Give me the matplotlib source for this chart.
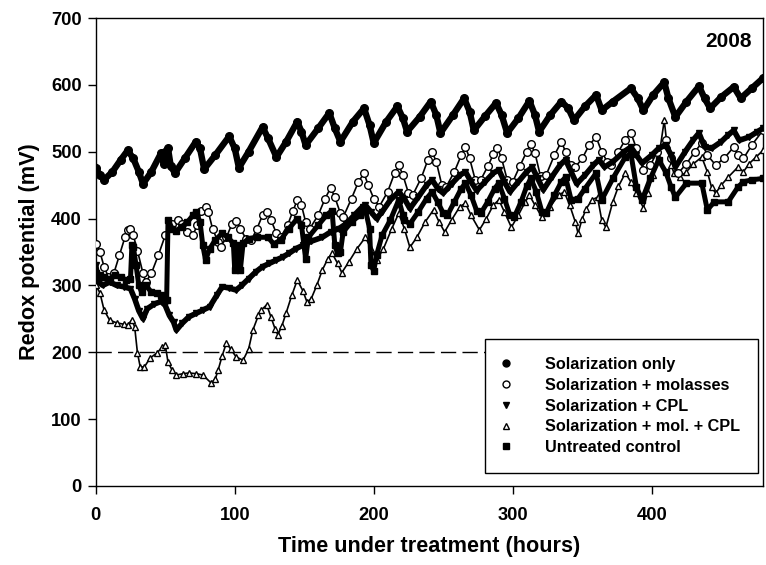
import matplotlib
matplotlib.use("Agg")
import matplotlib.pyplot as plt
from matplotlib.lines import Line2D
from matplotlib import font_manager

plt.rcParams['font.family'] = ['Liberation Sans', 'DejaVu Sans']
plt.rcParams['font.weight'] = 'bold'

# ---------------- data (hours, mV) ----------------
sol_h = [0, 3, 6, 12, 18, 23, 27, 31, 34, 40, 47, 49, 50, 52, 54, 57, 64, 72, 75, 78, 86, 96, 100, 103,
         110, 120, 124, 130, 137, 145, 148, 151, 160, 168, 172, 176, 185, 193, 197, 200, 209, 217, 221,
         224, 233, 241, 245, 248, 257, 265, 269, 272, 280, 288, 292, 296, 304, 312, 316, 319, 327, 335,
         340, 344, 352, 360, 364, 372, 385, 390, 394, 401, 409, 412, 417, 425, 434, 438, 442, 450, 459,
         464, 472, 480]
sol_v = [476, 465, 458, 470, 488, 502, 490, 470, 452, 470, 498, 482, 500, 505, 478, 468, 490, 515, 505, 474,
         495, 523, 505, 476, 500, 537, 520, 492, 515, 545, 530, 510, 535, 558, 535, 515, 545, 565, 540,
         513, 545, 568, 550, 530, 552, 575, 555, 528, 555, 580, 560, 532, 553, 573, 555, 528, 550, 576,
         555, 530, 555, 575, 565, 547, 568, 585, 562, 575, 595, 580, 562, 585, 604, 580, 552, 575, 598,
         580, 565, 582, 597, 580, 595, 610]

mol_h = [0, 3, 6, 9, 13, 17, 21, 23, 25, 27, 30, 34, 36, 40, 45, 50, 55, 59, 62, 66, 70, 73, 76, 79, 81,
         84, 88, 90, 94, 98, 101, 104, 108, 112, 116, 120, 123, 126, 130, 133, 138, 142, 145, 148, 151,
         154, 160, 165, 169, 172, 176, 178, 184, 189, 193, 196, 200, 204, 210, 215, 218, 221, 225, 228,
         234, 239, 242, 245, 249, 252, 258, 263, 266, 269, 273, 277, 282, 286, 289, 292, 296, 300, 305,
         310, 313, 316, 320, 324, 330, 335, 338, 342, 345, 350, 355, 360, 364, 368, 371, 376, 381, 385,
         389, 394, 399, 404, 410, 414, 419, 425, 431, 436, 440, 446, 452, 459, 462, 466, 472, 480]
mol_v = [362, 350, 328, 313, 318, 345, 372, 383, 385, 375, 352, 318, 305, 318, 345, 375, 392, 398, 392,
         380, 376, 390, 412, 418, 410, 385, 365, 358, 372, 392, 396, 385, 370, 368, 385, 405, 410, 398,
         378, 372, 390, 412, 428, 420, 395, 385, 405, 430, 446, 432, 408, 402, 430, 455, 468, 450, 430,
         418, 440, 468, 480, 465, 438, 435, 460, 488, 500, 485, 450, 447, 470, 495, 507, 490, 458, 458,
         478, 496, 505, 490, 458, 455, 478, 500, 512, 498, 463, 465, 495, 515, 500, 480, 477, 490, 510,
         522, 500, 485, 480, 500, 518, 528, 505, 472, 480, 500, 517, 490, 468, 482, 500, 513, 495, 480,
         490, 507, 495, 490, 510, 532]

cpl_h = [0, 2, 5, 10, 15, 20, 25, 28, 31, 34, 37, 42, 47, 50, 53, 56, 58, 62, 67, 72, 77, 82, 87, 91,
         96, 101, 105, 110, 115, 120, 125, 130, 135, 139, 144, 149, 155, 163, 169, 175, 180, 186, 192,
         194, 198, 202, 206, 212, 218, 222, 226, 232, 238, 242, 246, 250, 256, 262, 266, 270, 274, 280,
         286, 290, 294, 298, 304, 310, 314, 318, 322, 328, 334, 338, 342, 346, 352, 358, 362, 366, 372,
         380, 385, 389, 393, 400, 405, 410, 414, 417, 424, 430, 434, 438, 443, 450, 455, 459, 463, 470,
         476, 480]
cpl_v = [330, 305, 300, 305, 300, 298, 295, 280, 262, 250, 265, 272, 276, 270, 255, 245, 233, 243, 253,
         258, 263, 268, 285, 298, 296, 293, 300, 310, 320, 328, 333, 338, 343, 348, 355, 360, 366, 372,
         380, 385, 392, 405, 418, 420, 410, 400, 410, 428, 440, 430, 415, 432, 450, 458, 445, 438, 452,
         465, 470, 455, 442, 455, 468, 473, 455, 440, 455, 470, 477, 460, 443, 462, 480, 488, 470, 452,
         465, 480, 488, 477, 485, 500, 507, 495, 483, 495, 505, 510, 495, 477, 500, 518, 528, 507, 505,
         515, 525, 532, 517, 522, 530, 535]

molcpl_h = [0, 3, 6, 10, 15, 20, 23, 26, 28, 30, 32, 35, 39, 44, 48, 50, 52, 55, 58, 63, 67, 72, 77, 83,
            86, 88, 91, 94, 97, 101, 106, 110, 113, 117, 119, 123, 126, 129, 131, 134, 137, 141, 145,
            149, 152, 155, 159, 163, 167, 170, 174, 177, 182, 188, 194, 198, 202, 207, 213, 218, 222,
            226, 231, 237, 243, 247, 251, 256, 262, 266, 270, 276, 281, 286, 290, 294, 299, 304, 309,
            312, 316, 321, 327, 333, 337, 341, 345, 347, 350, 353, 357, 361, 364, 367, 372, 376, 381,
            385, 389, 394, 397, 401, 405, 409, 411, 414, 416, 420, 425, 430, 436, 440, 443, 446, 450,
            455, 462, 466, 470, 475, 480]
molcpl_v = [300, 289, 263, 248, 244, 242, 241, 248, 238, 199, 178, 178, 191, 199, 208, 211, 185, 173, 166,
            168, 169, 168, 166, 154, 160, 173, 195, 214, 205, 193, 188, 205, 233, 255, 263, 271, 253, 235,
            226, 240, 259, 285, 308, 292, 275, 280, 300, 323, 340, 348, 333, 319, 335, 355, 372, 355, 338,
            355, 385, 408, 385, 357, 372, 395, 413, 395, 380, 398, 418, 423, 405, 383, 400, 420, 428, 410,
            387, 405, 425, 435, 420, 402, 418, 435, 440, 420, 395, 378, 400, 415, 428, 432, 398, 387, 425,
            448, 468, 455, 438, 416, 438, 465, 490, 547, 510, 480, 468, 462, 470, 482, 492, 470, 447, 438,
            450, 462, 477, 470, 482, 492, 502]

ctrl_h = [0, 3, 6, 10, 14, 18, 22, 25, 26, 27, 29, 31, 33, 36, 40, 44, 47, 49, 51, 52, 55, 58, 62, 66,
          70, 72, 75, 77, 79, 82, 86, 91, 95, 99, 100, 102, 104, 106, 110, 116, 124, 128, 133, 139, 145,
          148, 151, 153, 160, 166, 170, 172, 174, 176, 178, 184, 190, 194, 197, 198, 200, 202, 206, 212,
          218, 221, 222, 226, 232, 238, 242, 246, 250, 253, 258, 263, 266, 270, 274, 277, 282, 287, 290,
          294, 298, 301, 306, 310, 313, 317, 321, 324, 330, 335, 338, 342, 347, 352, 360, 364, 372, 381,
          385, 389, 393, 399, 405, 410, 414, 417, 425, 436, 440, 445, 455, 462, 466, 472, 480]
ctrl_v = [318, 315, 312, 310, 316, 312, 308, 310, 360, 358, 330, 300, 290, 300, 290, 288, 285, 280, 278,
          398, 385, 382, 388, 395, 405, 410, 395, 360, 338, 355, 368, 378, 372, 363, 323, 360, 323, 363,
          370, 372, 372, 362, 368, 385, 400, 390, 340, 372, 390, 405, 412, 360, 348, 350, 380, 395, 405,
          413, 385, 330, 322, 345, 375, 398, 428, 405, 398, 392, 410, 430, 440, 425, 408, 405, 425, 445,
          453, 435, 412, 408, 425, 445, 453, 430, 405, 402, 425, 448, 460, 440, 410, 408, 435, 455, 462,
          428, 430, 445, 468, 428, 460, 492, 497, 447, 428, 460, 488, 470, 447, 432, 453, 453, 413, 425,
          425, 447, 455, 458, 460]

legend_labels = ["Solarization only", "Solarization + molasses", "Solarization + CPL",
                 "Solarization + mol. + CPL", "Untreated control"]
x_ticks = [0, 100, 200, 300, 400]
y_ticks = [0, 100, 200, 300, 400, 500, 600, 700]
threshold = 200
year_label = "2008"

# condensed font for axis text if available
_names = {f.name for f in font_manager.fontManager.ttflist}
if 'Liberation Sans Narrow' in _names:
    axis_family = ['Liberation Sans Narrow', 'Liberation Sans']
    tick_size, label_size = 15.5, 19
else:
    axis_family = ['Liberation Sans', 'DejaVu Sans']
    tick_size, label_size = 13.2, 15.6

# ---------------- figure ----------------
fig = plt.figure(figsize=(7.66, 5.65), dpi=100)
ax = fig.add_axes([0.125, 0.140, 0.871, 0.828])

ax.axhline(threshold, color='black', lw=1.0, ls=(0, (11, 4.5)), zorder=1)

# open triangles (sol + mol + CPL)
ax.plot(molcpl_h, molcpl_v, color='black', lw=1.2, marker='^', ms=5, mfc='white',
        mec='black', mew=1.0, zorder=3)
# open circles (sol + molasses)
ax.plot(mol_h, mol_v, color='black', lw=1.2, marker='o', ms=5.5, mfc='white',
        mec='black', mew=1.0, zorder=3)
# untreated control (squares)
ax.plot(ctrl_h, ctrl_v, color='black', lw=3.6, marker='s', ms=4.5, mfc='black',
        mec='black', zorder=4)
# sol + CPL (down triangles)
ax.plot(cpl_h, cpl_v, color='black', lw=4.0, marker='v', ms=5, mfc='black',
        mec='black', zorder=4)
# solarization only (filled circles)
ax.plot(sol_h, sol_v, color='black', lw=4.6, marker='o', ms=5.5, mfc='black',
        mec='black', zorder=5)

ax.set_xlim(0, 480)
ax.set_ylim(0, 700)
ax.set_xticks(x_ticks)
ax.set_yticks(y_ticks)
ax.tick_params(axis='both', direction='out', length=6, width=1)
ax.tick_params(axis='x', pad=9)
ax.tick_params(axis='y', pad=4)
for lab in ax.get_xticklabels() + ax.get_yticklabels():
    lab.set_fontweight('bold')
    lab.set_family(axis_family)
    lab.set_fontsize(tick_size)
for sp in ax.spines.values():
    sp.set_linewidth(1.0)

ax.set_xlabel("Time under treatment (hours)", fontsize=label_size, fontweight='bold',
              family=axis_family, labelpad=9)
ax.set_ylabel("Redox potential (mV)", fontsize=label_size, fontweight='bold',
              family=axis_family, labelpad=8)

ax.text(0.983, 0.970, year_label, transform=ax.transAxes, ha='right', va='top',
        fontsize=15, fontweight='bold')

handles = [
    Line2D([], [], ls='none', marker='o', ms=5, mfc='black', mec='black'),
    Line2D([], [], ls='none', marker='o', ms=5, mfc='white', mec='black', mew=1.0),
    Line2D([], [], ls='none', marker='v', ms=5, mfc='black', mec='black'),
    Line2D([], [], ls='none', marker='^', ms=5, mfc='white', mec='black', mew=1.0),
    Line2D([], [], ls='none', marker='s', ms=4.5, mfc='black', mec='black'),
]
leg = ax.legend(handles, legend_labels, loc='lower right', bbox_to_anchor=(0.9925, 0.028),
                frameon=True, fancybox=False, edgecolor='black', framealpha=1,
                prop={'weight': 'bold', 'size': 11.7}, handlelength=0.4, handletextpad=2.2,
                labelspacing=0.35, borderpad=1.1, borderaxespad=0)
leg.get_frame().set_linewidth(1.0)
leg.set_zorder(10)

fig.savefig("out.png", dpi=100)
